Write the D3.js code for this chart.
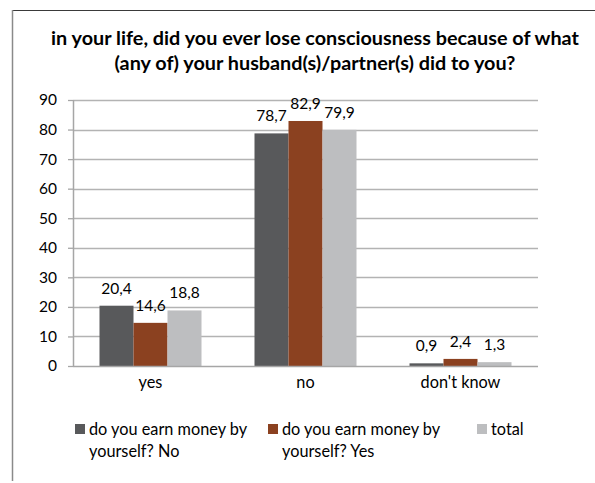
<!DOCTYPE html>
<html><head><meta charset="utf-8">
<script src="https://cdn.jsdelivr.net/npm/d3@7"></script>
<style>body{margin:0;background:#fff}svg{display:block}</style>
</head><body>
<script>
const categories = ["yes", "no", "don't know"];
const seriesNames = ["do you earn money by yourself? No", "do you earn money by yourself? Yes", "total"];
const seriesNo = [20.4, 78.7, 0.9];
const seriesYes = [14.6, 82.9, 2.4];
const seriesTotal = [18.8, 79.9, 1.3];
const yTicks = [0, 10, 20, 30, 40, 50, 60, 70, 80, 90];
const colors = ["#58595b", "#8b4120", "#bdbec0"];
const titleLines = ["in your life, did you ever lose consciousness because of what", "(any of) your husband(s)/partner(s) did to you?"];

(function () {
const W = 595, H = 483;
const font = "Lato, 'Open Sans', sans-serif";
const svg = d3.select("body").append("svg").attr("width", W).attr("height", H);

// frame (top and left edges visible)
svg.append("line").attr("x1", 12).attr("x2", W).attr("y1", 10.5).attr("y2", 10.5).attr("stroke", "#3a3a3a").attr("stroke-width", 1);
svg.append("line").attr("x1", 12.5).attr("x2", 12.5).attr("y1", 10).attr("y2", 481).attr("stroke", "#8a8a8a").attr("stroke-width", 1.5);

// title
const titleY = [45, 70];
let titleFs = 17;
titleLines.forEach((t, i) => {
  const el = svg.append("text").attr("x", 315).attr("y", titleY[i]).attr("text-anchor", "middle")
    .attr("font-family", font).attr("font-weight", "bold").attr("font-size", 17).attr("fill", "#000").text(t);
  if (i === 0) {
    const w = el.node().getComputedTextLength();
    titleFs = 17 * 528 / w;
  }
  el.attr("font-size", titleFs);
});

const pLeft = 73, pRight = 538, pTop = 100, pBottom = 366;
const x0 = d3.scaleBand().domain(categories).range([pLeft, pRight]).paddingInner(0).paddingOuter(0);
const groupW = 102;
const x1 = d3.scaleBand().domain(seriesNames).range([0, groupW]).padding(0);
const y = d3.scaleLinear().domain([0, 90]).range([pBottom, pTop]);

// gridlines
svg.append("g").selectAll("line").data(yTicks.filter(d => d > 0)).join("line")
  .attr("x1", pLeft).attr("x2", pRight).attr("y1", d => Math.round(y(d)) + 0.5).attr("y2", d => Math.round(y(d)) + 0.5)
  .attr("stroke", "#b3b3b3").attr("stroke-width", 1.3);

// y axis
const yAxis = svg.append("g").attr("transform", `translate(${pLeft},0)`)
  .call(d3.axisLeft(y).tickValues(yTicks).tickSize(5).tickPadding(11).tickFormat(d3.format("d")));
yAxis.select(".domain").attr("stroke", "#a6a6a6").attr("stroke-width", 1.5).attr("d", `M0.5,${pTop}V${pBottom}`);
yAxis.selectAll(".tick line").attr("stroke", "#a6a6a6").attr("stroke-width", 1.3);
yAxis.selectAll(".tick text").attr("font-family", font).attr("font-size", 15.5).attr("fill", "#000");

// bars
const data = categories.map((c, i) => ({ c, vals: [seriesNo[i], seriesYes[i], seriesTotal[i]] }));
const off = (x0.bandwidth() - groupW) / 2;
const fmt = v => d3.format(".1f")(v).replace(".", ",");
const g = svg.append("g").selectAll("g").data(data).join("g")
  .attr("transform", d => `translate(${x0(d.c) + off},0)`);
g.selectAll("rect").data(d => d.vals.map((v, j) => ({ v, s: seriesNames[j], j }))).join("rect")
  .attr("x", d => x1(d.s)).attr("width", x1.bandwidth())
  .attr("y", d => y(d.v)).attr("height", d => pBottom - y(d.v)).attr("fill", d => colors[d.j]);
g.selectAll("text").data(d => d.vals.map((v, j) => ({ v, s: seriesNames[j], j }))).join("text")
  .attr("x", d => x1(d.s) + x1.bandwidth() / 2).attr("y", d => y(d.v) - 12)
  .attr("text-anchor", "middle").attr("font-family", font).attr("font-size", 15.5).attr("fill", "#000")
  .text(d => fmt(d.v));

// x axis
svg.append("line").attr("x1", pLeft).attr("x2", pRight).attr("y1", pBottom + 0.5).attr("y2", pBottom + 0.5)
  .attr("stroke", "#a6a6a6").attr("stroke-width", 1.5);
svg.append("g").selectAll("text").data(categories).join("text")
  .attr("x", d => x0(d) + x0.bandwidth() / 2).attr("y", 388).attr("text-anchor", "middle")
  .attr("font-family", font).attr("font-size", 16.3).attr("fill", "#000").text(d => d);

// legend
const legendItems = [
  { lines: ["do you earn money by", "yourself? No"], x: 75 },
  { lines: ["do you earn money by", "yourself? Yes"], x: 268 },
  { lines: ["total"], x: 477 }
];
const lg = svg.append("g").selectAll("g").data(legendItems).join("g")
  .attr("transform", d => `translate(${d.x},424)`);
lg.append("rect").attr("width", 10).attr("height", 10).attr("fill", (d, i) => colors[i]);
lg.each(function (d) {
  const t = d3.select(this).append("text").attr("x", 14).attr("y", 11)
    .attr("font-family", font).attr("font-size", 16.3).attr("fill", "#000");
  d.lines.forEach((l, k) => t.append("tspan").attr("x", 14).attr("dy", k === 0 ? 0 : 22).text(l));
});
})();
</script>
</body></html>
